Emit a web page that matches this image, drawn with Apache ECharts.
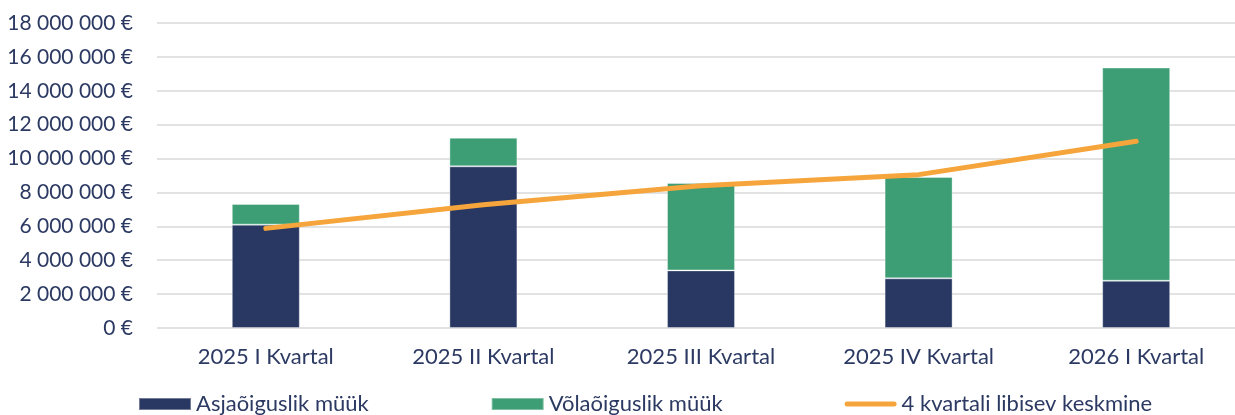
<!DOCTYPE html>
<html>
<head>
<meta charset="utf-8">
<script src="https://cdn.jsdelivr.net/npm/echarts@6/dist/echarts.min.js"></script>
<style>
  html, body { margin: 0; padding: 0; background: #fff; overflow: hidden; }
  #chart { width: 1245px; height: 415px; }
</style>
</head>
<body>
<div id="chart"></div>
<script>
var categories = ['2025 I Kvartal', '2025 II Kvartal', '2025 III Kvartal', '2025 IV Kvartal', '2026 I Kvartal'];
var asjaoiguslik = [6100000, 9540000, 3400000, 2930000, 2790000];
var volaoiguslik = [1220000, 1690000, 5160000, 5980000, 12580000];
var keskmine = [5880000, 7280000, 8400000, 9050000, 11020000];
var seriesNames = ['Asjaõiguslik müük', 'Võlaõiguslik müük', '4 kvartali libisev keskmine'];

var textColor = '#2c3a63';
var fontFamily = 'Lato, "Open Sans", sans-serif';

function euro(v) {
    return String(v).replace(/\B(?=(\d{3})+(?!\d))/g, ' ') + ' €';
}

// plot area runs a little past the right edge of the window, like the original
var chart = echarts.init(document.getElementById('chart'));

var option = {
    animation: false,
    textStyle: { fontFamily: fontFamily, color: textColor },
    grid: { left: 157, top: 23, right: 0, bottom: 87, containLabel: false },
    legend: {
        left: 138,
        top: 393,
        padding: 0,
        itemWidth: 52,
        itemHeight: 12,
        itemGap: 122,
        textStyle: { fontSize: 22, color: textColor, fontFamily: fontFamily },
        data: [
            { name: seriesNames[0], icon: 'rect' },
            { name: seriesNames[1], icon: 'rect' },
            { name: seriesNames[2], icon: 'path://M2.5,0 L49.5,0 A2.5,2.5 0 0 1 49.5,5 L2.5,5 A2.5,2.5 0 0 1 2.5,0 Z' }
        ]
    },
    xAxis: {
        type: 'category',
        data: categories,
        axisLine: { show: false },
        axisTick: { show: false },
        axisLabel: { fontSize: 22, color: textColor, margin: 18 }
    },
    yAxis: {
        type: 'value',
        min: 0,
        max: 18000000,
        interval: 2000000,
        axisLabel: { fontSize: 21, color: textColor, margin: 24, formatter: euro },
        splitLine: { lineStyle: { color: '#d9d9d9', width: 1.5 } }
    },
    series: [
        {
            name: seriesNames[0],
            type: 'bar',
            stack: 'muuk',
            barWidth: 68,
            data: asjaoiguslik,
            itemStyle: { color: '#283862', borderColor: 'rgba(255,255,255,0.35)', borderWidth: 1 }
        },
        {
            name: seriesNames[1],
            type: 'bar',
            stack: 'muuk',
            barWidth: 68,
            data: volaoiguslik,
            itemStyle: { color: '#3d9e75', borderColor: 'rgba(255,255,255,0.35)', borderWidth: 1 }
        },
        {
            name: seriesNames[2],
            type: 'line',
            data: keskmine,
            symbol: 'none',
            z: 5,
            lineStyle: { color: '#f5a53b', width: 5, cap: 'round', join: 'round' },
            itemStyle: { color: '#f5a53b' }
        }
    ]
};

chart.setOption(option);
</script>
</body>
</html>
